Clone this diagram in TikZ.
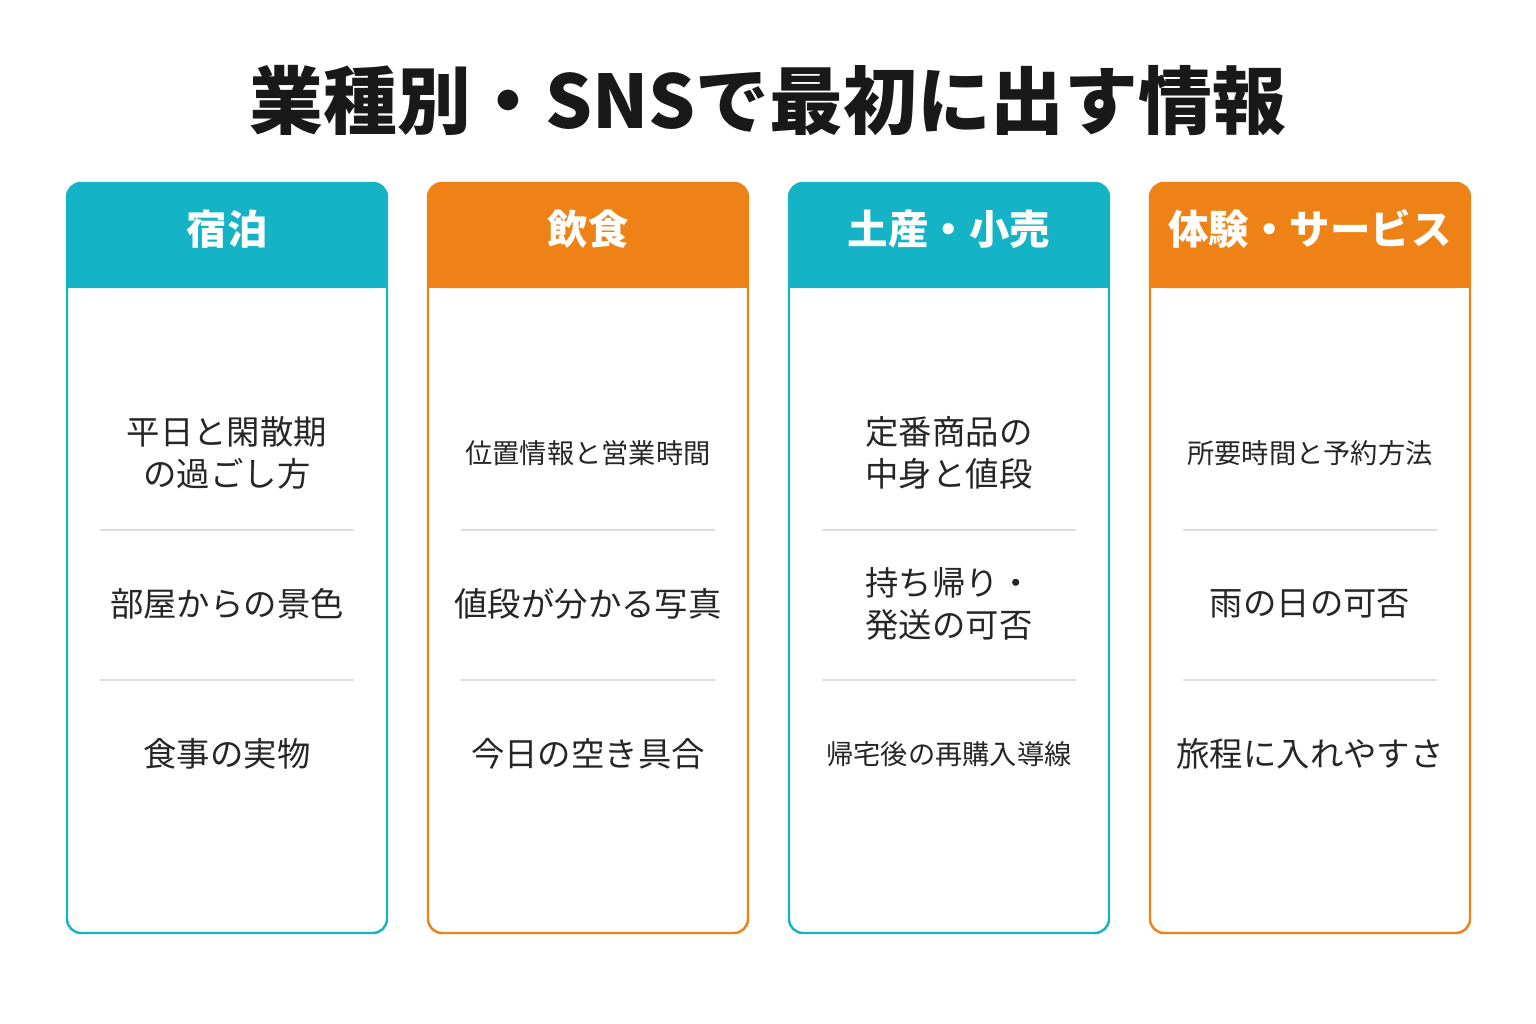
\documentclass[tikz,border=0pt]{standalone}
\usepackage{fontspec}
\setmainfont{Noto Sans CJK JP}
\usetikzlibrary{positioning}
\definecolor{teal}{HTML}{14B3C6}
\definecolor{orng}{HTML}{EF8216}
\definecolor{sep}{HTML}{DDDDDD}
\begin{document}
\begin{tikzpicture}[x=0.02cm,y=-0.02cm,
		card/.style={draw=#1,line width=1.4pt,rounded corners=8pt},
		head/.style={fill=#1,rounded corners=8pt},
		headtext/.style={text=white,font=\fontsize{23}{26}\selectfont\bfseries},
		item/.style={align=center,text=black!85,font=\fontsize{19}{24}\selectfont},
		small item/.style={item,font=\fontsize{15.5}{20}\selectfont},
	]
	\useasboundingbox (0,0) rectangle (1536,1024);
	\node[font=\fontsize{42}{46}\selectfont\bfseries,text=black!90] (title) at (768,100) {業種別・SNSで最初に出す情報};
	%
	\foreach \x/\c/\h/\n in {67/teal/宿泊/a, 428/orng/飲食/b, 789/teal/土産・小売/c, 1150/orng/体験・サービス/d} {
		\draw[card=\c] (\x,183) rectangle ++(320,750);
		\fill[head=\c] (\x,183) rectangle ++(320,105);
		\fill[\c] (\x,250) rectangle ++(320,38);
		\node[headtext] (h\n) at (\x+160,229) {\h};
		\draw[sep,line width=0.8pt] (\x+33,530) -- ++(254,0);
		\draw[sep,line width=0.8pt] (\x+33,680) -- ++(254,0);
	}
	% 宿泊
	\node[item] (a1) at (227,453) {平日と閑散期\\の過ごし方};
	\node[item] (a2) at (227,604) {部屋からの景色};
	\node[item] (a3) at (227,754) {食事の実物};
	% 飲食
	\node[small item] (b1) at (588,453) {位置情報と営業時間};
	\node[item] (b2) at (588,604) {値段が分かる写真};
	\node[item] (b3) at (588,754) {今日の空き具合};
	% 土産・小売
	\node[item,align=left] (c1) at (949,453) {定番商品の\\中身と値段};
	\node[item,align=left] (c2) at (949,604) {持ち帰り・\\発送の可否};
	\node[small item] (c3) at (949,754) {帰宅後の再購入導線};
	% 体験・サービス
	\node[small item] (d1) at (1310,453) {所要時間と予約方法};
	\node[item] (d2) at (1310,604) {雨の日の可否};
	\node[item] (d3) at (1310,754) {旅程に入れやすさ};
\end{tikzpicture}
\end{document}
